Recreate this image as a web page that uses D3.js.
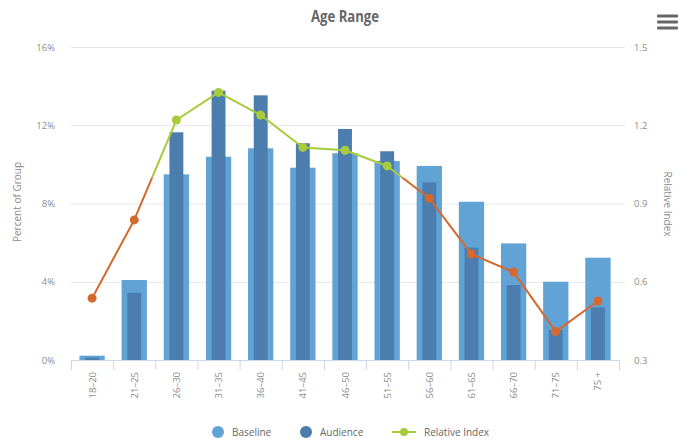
<!DOCTYPE html>
<html>
<head>
<meta charset="utf-8">
<script src="https://cdn.jsdelivr.net/npm/d3@7"></script>
<style>
  html, body { margin: 0; padding: 0; background: #fff; }
  svg { display: block; font-family: "Open Sans", "DejaVu Sans", sans-serif; }
</style>
</head>
<body>
<svg id="chart" width="691" height="442"></svg>
<script>
// Age range categories
const categories = ["18–20", "21–25", "26–30", "31–35", "36–40", "41–45", "46–50",
                    "51–55", "56–60", "61–65", "66–70", "71–75", "75 +"];
// Share of each group (%)
const baseline = [0.22, 4.09, 9.49, 10.39, 10.82, 9.83, 10.57, 10.17, 9.92, 8.09, 5.96, 4.00, 5.23];
const audience = [0.12, 3.44, 11.64, 13.77, 13.53, 11.08, 11.81, 10.67, 9.08, 5.74, 3.83, 1.53, 2.69];
// Audience / baseline index
const relIndex = [0.537, 0.837, 1.22, 1.326, 1.239, 1.115, 1.104, 1.044, 0.92, 0.706, 0.637, 0.409, 0.526];
// Axis ticks
const leftTicks = [0, 4, 8, 12, 16];
const rightTicks = [0.3, 0.6, 0.9, 1.2, 1.5];
const indexThreshold = 1.0;

const colors = {
  baseline: "#62a3d6",
  audience: "#4b7dae",
  above: "#a8cb3c",
  below: "#d4692f",
  grid: "#e6e6e6",
  axis: "#ccd6eb",
  text: "#666666",
  label: "#8c8c8c"
};

const svg = d3.select("#chart");
const plot = { left: 71, right: 619, top: 47, bottom: 360 };

const x = d3.scaleBand().domain(categories).range([plot.left, plot.right]);
const yL = d3.scaleLinear().domain([0, 16]).range([plot.bottom, plot.top]);
const yR = d3.scaleLinear().domain([0.3, 1.5]).range([plot.bottom, plot.top]);

// Title (slightly condensed)
svg.append("text")
  .attr("transform", "translate(345,22) scale(0.82,1)")
  .attr("text-anchor", "middle")
  .attr("font-size", 16).attr("font-weight", "bold")
  .attr("fill", "#666")
  .text("Age Range");

// Menu icon
const menu = svg.append("g").attr("transform", "translate(657,16)");
[0, 6, 12].forEach(dy => {
  menu.append("rect").attr("x", 0).attr("y", dy - 1.5).attr("width", 21).attr("height", 3)
    .attr("rx", 1).attr("fill", "#666");
});

// Grid lines
svg.append("g").selectAll("line").data(leftTicks.slice(1)).join("line")
  .attr("x1", plot.left).attr("x2", plot.right + 6)
  .attr("y1", d => yL(d) + 0.5).attr("y2", d => yL(d) + 0.5)
  .attr("stroke", colors.grid).attr("stroke-width", 1);

// Left axis labels
svg.append("g").selectAll("text").data(leftTicks).join("text")
  .attr("x", 55).attr("y", d => yL(d) + 3.5)
  .attr("text-anchor", "end")
  .attr("font-size", 9.5).attr("fill", colors.label)
  .text(d => d + "%");

// Right axis labels
svg.append("g").selectAll("text").data(rightTicks).join("text")
  .attr("x", 634).attr("y", d => yR(d) + 3.5)
  .attr("text-anchor", "start")
  .attr("font-size", 9.5).attr("fill", colors.label)
  .text(d => d.toFixed(1));

// Axis titles
svg.append("text")
  .attr("transform", "translate(21,202) rotate(-90)")
  .attr("text-anchor", "middle")
  .attr("font-size", 10).attr("fill", colors.label)
  .text("Percent of Group");

svg.append("text")
  .attr("transform", "translate(664,204) rotate(90)")
  .attr("text-anchor", "middle")
  .attr("font-size", 10).attr("fill", colors.label)
  .text("Relative Index");

// Bars: baseline (wide) behind audience (narrow)
const bw = x.bandwidth();
svg.append("g").selectAll("rect").data(baseline).join("rect")
  .attr("x", (d, i) => x(categories[i]) + bw * 0.2)
  .attr("width", bw * 0.6)
  .attr("y", d => yL(d))
  .attr("height", d => yL(0) - yL(d))
  .attr("fill", colors.baseline);

svg.append("g").selectAll("rect").data(audience).join("rect")
  .attr("x", (d, i) => x(categories[i]) + bw * 0.335)
  .attr("width", bw * 0.33)
  .attr("y", d => yL(d))
  .attr("height", d => yL(0) - yL(d))
  .attr("fill", colors.audience);

// X axis line and ticks
const xAxis = svg.append("g");
xAxis.append("line")
  .attr("x1", plot.left).attr("x2", plot.right)
  .attr("y1", plot.bottom + 0.5).attr("y2", plot.bottom + 0.5)
  .attr("stroke", colors.axis);
xAxis.selectAll("line.tick").data(categories.concat(["end"])).join("line")
  .attr("class", "tick")
  .attr("x1", (d, i) => plot.left + i * bw + 0.5)
  .attr("x2", (d, i) => plot.left + i * bw + 0.5)
  .attr("y1", plot.bottom).attr("y2", plot.bottom + 10)
  .attr("stroke", colors.axis);
xAxis.selectAll("text").data(categories).join("text")
  .attr("transform", d => `translate(${x(d) + bw / 2 + 3.5},${plot.bottom + 12}) rotate(-90)`)
  .attr("text-anchor", "end")
  .attr("font-size", 9.5).attr("fill", colors.label)
  .text(d => d);

// Relative index line, coloured by zone around the threshold
const defs = svg.append("defs");
const tY = yR(indexThreshold);
defs.append("clipPath").attr("id", "clip-above")
  .append("rect").attr("x", 0).attr("y", 0).attr("width", 691).attr("height", tY);
defs.append("clipPath").attr("id", "clip-below")
  .append("rect").attr("x", 0).attr("y", tY).attr("width", 691).attr("height", 442 - tY);

const linePts = relIndex.map((v, i) => [x(categories[i]) + bw / 2, yR(v)]);
const line = d3.line();
[["clip-above", colors.above], ["clip-below", colors.below]].forEach(([id, c]) => {
  svg.append("path")
    .attr("d", line(linePts))
    .attr("clip-path", `url(#${id})`)
    .attr("fill", "none").attr("stroke", c).attr("stroke-width", 2)
    .attr("stroke-linejoin", "round");
});
svg.append("g").selectAll("circle").data(relIndex).join("circle")
  .attr("cx", (d, i) => x(categories[i]) + bw / 2)
  .attr("cy", d => yR(d))
  .attr("r", 4.5)
  .attr("fill", d => d >= indexThreshold ? colors.above : colors.below);

// Legend
const legend = svg.append("g").attr("font-size", 10);
legend.append("circle").attr("cx", 218).attr("cy", 432).attr("r", 6).attr("fill", colors.baseline);
legend.append("text").attr("x", 232).attr("y", 435.5).attr("fill", colors.text).text("Baseline");
legend.append("circle").attr("cx", 306).attr("cy", 432).attr("r", 6).attr("fill", colors.audience);
legend.append("text").attr("x", 320).attr("y", 435.5).attr("fill", colors.text).text("Audience");
legend.append("line").attr("x1", 392).attr("x2", 416).attr("y1", 432).attr("y2", 432)
  .attr("stroke", colors.above).attr("stroke-width", 2);
legend.append("circle").attr("cx", 404).attr("cy", 432).attr("r", 4).attr("fill", colors.above);
legend.append("text").attr("x", 424).attr("y", 435.5).attr("fill", colors.text).text("Relative Index");
</script>
</body>
</html>
